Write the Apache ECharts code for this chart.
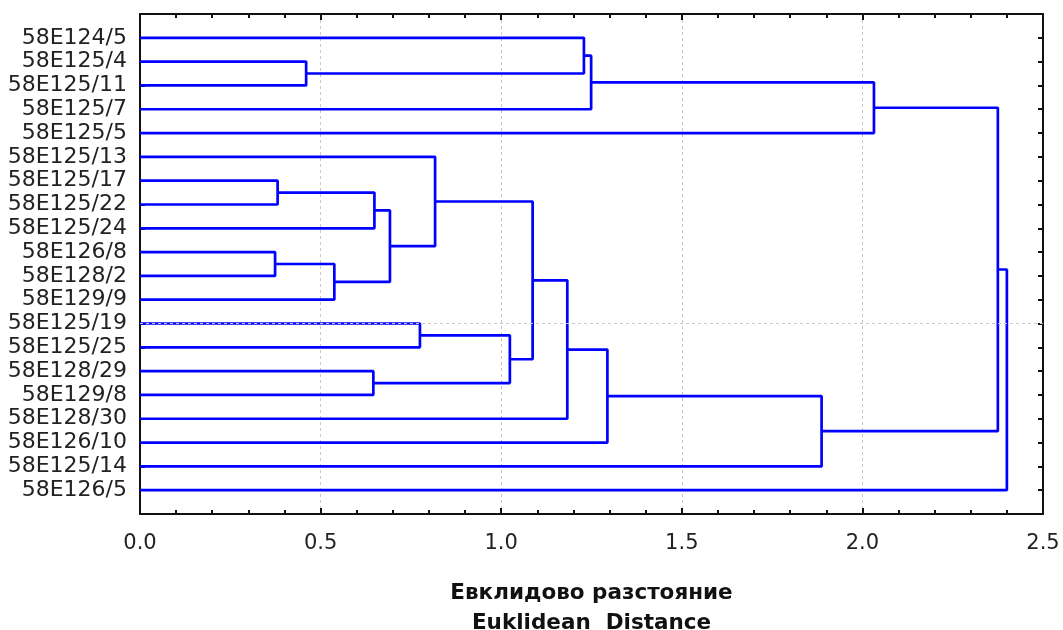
<!DOCTYPE html>
<html>
<head>
<meta charset="utf-8">
<script src="https://cdn.jsdelivr.net/npm/echarts@6/dist/echarts.min.js"></script>
<style>
html,body{margin:0;padding:0;background:#fff;}
#chart{width:1063px;height:630px;}
</style>
</head>
<body>
<div id="chart"></div>
<script>
// Leaves, top to bottom
const leaves = [
  '58E124/5','58E125/4','58E125/11','58E125/7','58E125/5',
  '58E125/13','58E125/17','58E125/22','58E125/24','58E126/8',
  '58E128/2','58E129/9','58E125/19','58E125/25','58E128/29',
  '58E129/8','58E128/30','58E126/10','58E125/14','58E126/5'
];
// Merge steps: node ids 0..19 are leaves, merge k creates node 20+k
const mergeLeft  = [1, 0, 21, 22, 6, 24, 9, 26, 25, 5, 12, 14, 30, 29, 33, 34, 35, 23, 37];
const mergeRight = [2, 20, 3, 4, 7, 8, 10, 11, 27, 28, 13, 15, 31, 32, 16, 17, 18, 36, 19];
const mergeDist  = [0.46, 1.229, 1.249, 2.032, 0.381, 0.649, 0.374, 0.538, 0.692, 0.817,
                    0.775, 0.646, 1.024, 1.087, 1.183, 1.294, 1.887, 2.375, 2.400];
const xTickValues = [0.0, 0.5, 1.0, 1.5, 2.0, 2.5];
const gridLeaf = '58E125/19';
const axisTitle = 'Евклидово разстояние\nEuklidean  Distance';

// node positions (x = distance, y = leaf slot)
const nodeX = [], nodeY = [];
leaves.forEach((l, i) => { nodeX[i] = 0; nodeY[i] = i + 1; });
mergeDist.forEach((d, k) => {
  const a = mergeLeft[k], b = mergeRight[k];
  nodeX[20 + k] = d;
  nodeY[20 + k] = (nodeY[a] + nodeY[b]) / 2;
});

const blue = '#0000ff';
const series = mergeDist.map((d, k) => {
  const a = mergeLeft[k], b = mergeRight[k];
  return {
    type: 'line',
    data: [[nodeX[a], nodeY[a]], [d, nodeY[a]], [d, nodeY[b]], [nodeX[b], nodeY[b]]],
    symbol: 'none',
    lineStyle: { color: blue, width: 2.7 },
    silent: true,
    z: 3
  };
});
series.push({
  type: 'line', data: [], silent: true,
  markLine: {
    silent: true, symbol: 'none', label: { show: false },
    lineStyle: { color: '#c8c8c8', width: 1, type: [3, 3] },
    data: [{ yAxis: leaves.indexOf(gridLeaf) + 1 }]
  }
});

const font = 'DejaVu Sans';
const chart = echarts.init(document.getElementById('chart'));
const xBase = {
  type: 'value', min: 0, max: 2.5, interval: 0.5,
  axisLine: { show: true, onZero: false, lineStyle: { color: '#111', width: 2 } },
  axisTick: { show: true, inside: true, length: 6, lineStyle: { color: '#111', width: 2 } },
  minorTick: { show: true, splitNumber: 5, length: 4, lineStyle: { color: '#111', width: 2 } },
};
const yBase = {
  type: 'value', min: 0, max: leaves.length + 1, interval: 1, inverse: true,
  axisLine: { show: true, onZero: false, lineStyle: { color: '#111', width: 2 } },
  axisTick: { show: true, inside: true, length: 5, lineStyle: { color: '#111', width: 2 } },
  splitLine: { show: false }
};
chart.setOption({
  animation: false,
  backgroundColor: '#fff',
  grid: { left: 140, right: 20, top: 14, bottom: 116, containLabel: false, outerBoundsMode: 'none' },
  xAxis: [
    Object.assign({}, xBase, {
      position: 'bottom',
      axisLabel: {
        show: true, margin: 19, fontSize: 21, fontFamily: font, color: '#222',
        formatter: v => xTickValues.includes(+v.toFixed(1)) ? v.toFixed(1) : ''
      },
      splitLine: { show: true, lineStyle: { color: '#c8c8c8', width: 1, type: [3, 3] } },
      name: axisTitle,
      nameLocation: 'middle',
      nameGap: 64,
      nameTextStyle: { fontSize: 21.5, fontWeight: 'bold', fontFamily: font, color: '#111', lineHeight: 30 }
    }),
    Object.assign({}, xBase, {
      position: 'top',
      axisLabel: { show: false },
      splitLine: { show: false }
    })
  ],
  yAxis: [
    Object.assign({}, yBase, {
      position: 'left',
      axisLabel: {
        show: true, margin: 13, fontSize: 22, fontFamily: font, color: '#222',
        formatter: v => leaves[v - 1] || ''
      }
    }),
    Object.assign({}, yBase, {
      position: 'right',
      axisLabel: { show: false }
    })
  ],
  series: series
});
</script>
</body>
</html>
